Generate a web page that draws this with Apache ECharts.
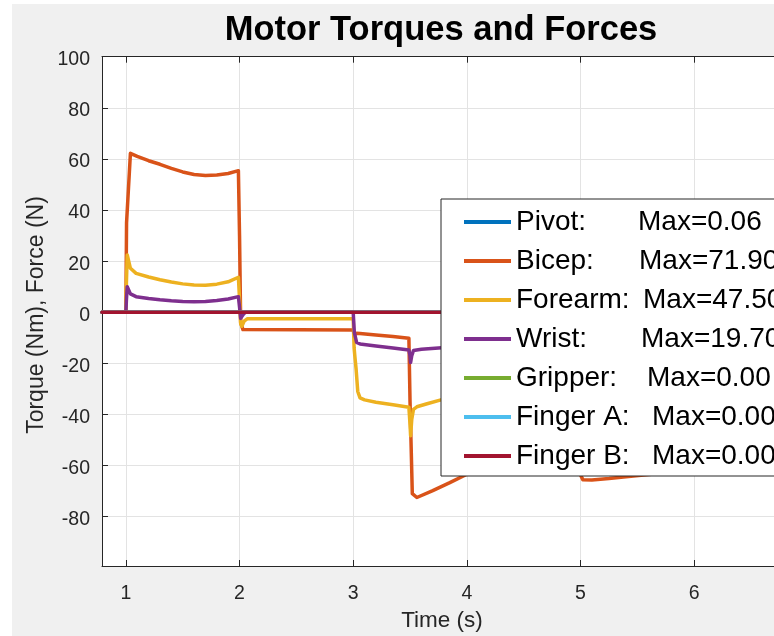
<!DOCTYPE html>
<html>
<head>
<meta charset="utf-8">
<script src="https://cdn.jsdelivr.net/npm/echarts@6/dist/echarts.min.js"></script>
<style>html,body{margin:0;padding:0;background:#fff}#c{width:774px;height:636px}</style>
</head>
<body>
<div id="c"></div>
<script>
// ---- data ----
const seriesNames = ['Pivot', 'Bicep', 'Forearm', 'Wrist', 'Gripper', 'Finger A', 'Finger B'];
const maxLabels = ['0.06', '71.90', '47.50', '19.70', '0.00', '0.00', '0.00'];
const xTicks = [1, 2, 3, 4, 5, 6];
const yTicks = [-80, -60, -40, -20, 0, 20, 40, 60, 80, 100];

const zeroT = [0.79, 7.2];
const pivotV = [0, 0];
const gripperV = [0, 0];
const fingerAV = [0, 0];
const fingerBV = [0, 0];

const bicepT = [0.79, 1.0, 1.006, 1.04, 1.1, 1.2, 1.3, 1.4, 1.5, 1.6, 1.7, 1.8, 1.9, 1.99, 2.0, 2.01, 2.03, 3.0, 3.01, 3.03, 3.06, 3.2, 3.35, 3.49, 3.5, 3.52, 3.56, 3.7, 3.85, 4.0, 4.2, 4.4, 4.6, 4.8, 4.98, 5.02, 5.1, 5.25, 5.4, 5.6, 5.9, 6.2, 6.5, 6.8, 7.2];
const bicepV = [0, 0, 35, 62.2, 61.0, 59.3, 57.9, 56.3, 54.9, 53.9, 53.5, 53.7, 54.3, 55.4, 30, -4, -6.8, -6.9, -9, -8.2, -8.3, -8.9, -9.5, -10.2, -35, -71, -72.5, -69.8, -66.7, -63.4, -61, -60, -60.3, -61, -61.8, -65.5, -65.6, -65.1, -64.4, -63.5, -62.3, -61.2, -60.3, -59.7, -59];

const forearmT = [0.79, 1.0, 1.005, 1.012, 1.04, 1.09, 1.2, 1.3, 1.4, 1.5, 1.6, 1.7, 1.8, 1.9, 1.99, 2.0, 2.01, 2.02, 2.04, 2.07, 3.0, 3.008, 3.015, 3.025, 3.04, 3.06, 3.1, 3.2, 3.35, 3.49, 3.5, 3.505, 3.515, 3.53, 3.56, 3.65, 3.78, 3.9, 4.1, 4.4, 4.8, 5.0, 5.02, 5.3, 5.7, 6.2, 6.8, 7.2];
const forearmV = [0, 0, 12, 22.4, 17.2, 15.2, 13.8, 12.7, 11.8, 11.1, 10.7, 10.6, 11.0, 11.9, 13.7, 5, -4.5, -5.5, -3.5, -2.5, -2.5, -14, -17.5, -22, -31, -33.5, -34.3, -35.2, -36.2, -37.2, -44, -48.3, -42, -38, -37, -35.8, -34.2, -33, -31.5, -30, -29, -29, -34, -33, -32, -31, -30.5, -30];

const wristT = [0.79, 1.0, 1.005, 1.012, 1.04, 1.09, 1.2, 1.3, 1.4, 1.5, 1.6, 1.7, 1.8, 1.9, 1.99, 2.0, 2.01, 2.03, 2.05, 3.0, 3.01, 3.03, 3.06, 3.2, 3.35, 3.49, 3.5, 3.505, 3.515, 3.53, 3.6, 3.78, 4.0, 4.4, 4.8, 5.0, 5.02, 5.5, 6.0, 6.5, 7.2];
const wristV = [0, 0, 5, 10, 7.2, 6.1, 5.4, 4.9, 4.5, 4.2, 4.1, 4.2, 4.6, 5.2, 6.1, 2, -2.4, -1, 0, 0, -8, -11.8, -12.4, -13.2, -14, -14.8, -17, -19.7, -17, -15, -14.5, -13.9, -13.3, -12.8, -12.5, -12.4, -14, -13.5, -13, -12.7, -12.5];

// ---- chart ----
const colors = ['#0072BD', '#D95319', '#EDB120', '#7E2F8E', '#77AC30', '#4DBEEE', '#A2142F'];
const zip = (t, v) => t.map((x, i) => [x, v[i]]);
const seriesData = [
  zip(zeroT, pivotV),
  zip(bicepT, bicepV),
  zip(forearmT, forearmV),
  zip(wristT, wristV),
  zip(zeroT, gripperV),
  zip(zeroT, fingerAV),
  zip(zeroT, fingerBV)
];

const nameWidths = [122, 123, 127, 125, 131, 136, 136];
const rich = { m: { fontSize: 28, lineHeight: 39, fontFamily: 'Liberation Sans', color: '#000' } };
nameWidths.forEach((w, i) => {
  rich['n' + i] = { width: w, fontSize: 28, lineHeight: 39, fontFamily: 'Liberation Sans', color: '#000' };
});

const axisColor = '#262626';
const gridColor = '#e3e3e3';
const font = 'Liberation Sans';

const chart = echarts.init(document.getElementById('c'), null, { renderer: 'canvas' });
chart.setOption({
  animation: false,
  backgroundColor: '#ffffff',
  color: colors,
  graphic: [
    { type: 'rect', z: -100, shape: { x: 12, y: 4, width: 780, height: 640 }, style: { fill: '#f0f0f0' } },
    { type: 'text', x: 441, y: 30.5, style: { text: 'Motor Torques and Forces', font: 'bold 34.5px "Liberation Sans"', fill: '#000', align: 'center', verticalAlign: 'middle' } },
    { type: 'text', x: 442, y: 621, style: { text: 'Time (s)', font: '22.5px "Liberation Sans"', fill: axisColor, align: 'center', verticalAlign: 'middle' } },
    { type: 'text', x: 37, y: 315, rotation: Math.PI / 2, style: { text: 'Torque (Nm), Force (N)', font: '23px "Liberation Sans"', fill: axisColor, align: 'center', verticalAlign: 'middle' } }
  ],
  grid: { left: 102, top: 56.7, right: 0, bottom: 70, show: true, backgroundColor: '#ffffff', borderWidth: 0 },
  legend: {
    orient: 'vertical',
    left: 441, top: 199,
    icon: 'rect', itemWidth: 47, itemHeight: 4, itemGap: 0,
    padding: [3.5, 10, 0.5, 23],
    backgroundColor: '#ffffff', borderColor: axisColor, borderWidth: 1,
    selectedMode: false,
    textStyle: { fontSize: 28, lineHeight: 39, fontFamily: font, color: '#000', rich: rich },
    formatter: function (name) {
      const i = seriesNames.indexOf(name);
      return '{n' + i + '|' + name + ':}{m|Max=' + maxLabels[i] + '}';
    },
    data: seriesNames
  },
  xAxis: [{
    type: 'value', min: 0.79, max: 6.702, position: 'bottom',
    axisLine: { show: true, onZero: false, lineStyle: { color: axisColor, width: 1 } },
    axisTick: { show: true, inside: true, length: 6, customValues: xTicks, lineStyle: { color: axisColor } },
    axisLabel: { customValues: xTicks, fontSize: 19.5, fontFamily: font, color: axisColor, margin: 18 },
    splitLine: { show: true, lineStyle: { color: gridColor, width: 1 } }
  }, {
    type: 'value', min: 0.79, max: 6.702, position: 'top',
    axisLine: { show: true, onZero: false, lineStyle: { color: axisColor, width: 1 } },
    axisTick: { show: true, inside: true, length: 6, customValues: xTicks, lineStyle: { color: axisColor } },
    axisLabel: { show: false },
    splitLine: { show: false }
  }],
  yAxis: {
    type: 'value', min: -99.3, max: 100,
    axisLine: { show: true, onZero: false, lineStyle: { color: axisColor, width: 1 } },
    axisTick: { show: true, inside: true, length: 6, customValues: yTicks, lineStyle: { color: axisColor } },
    axisLabel: {
      customValues: yTicks, margin: 12,
      formatter: '{t|{value}}',
      rich: { t: { fontSize: 19.5, fontFamily: font, color: axisColor, padding: [6, 0, 0, 0] } }
    },
    splitLine: { show: true, lineStyle: { color: gridColor, width: 1 } }
  },
  series: seriesNames.map((n, i) => ({
    name: n, type: 'line', xAxisIndex: 0, data: seriesData[i],
    symbol: 'none', smooth: false, clip: true,
    lineStyle: { width: 3.5, color: colors[i], join: 'round', cap: 'round' },
    itemStyle: { color: colors[i] }
  }))
});
</script>
</body>
</html>
